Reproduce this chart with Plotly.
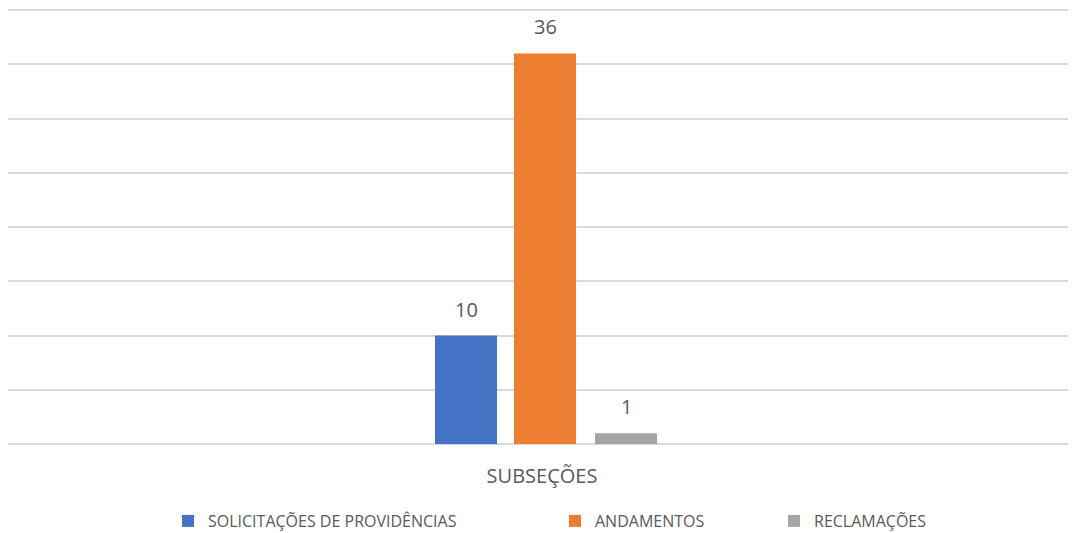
import plotly.graph_objects as go

categories = ["SUBSEÇÕES"]
series_names = ["SOLICITAÇÕES DE PROVIDÊNCIAS", "ANDAMENTOS", "RECLAMAÇÕES"]
series_values = [[10], [36], [1]]
colors = ["#4472C4", "#ED7D31", "#A5A5A5"]

# page has an 8px body margin: figure is drawn at page offset (8, 8)
OFF = 8
W, H = 1068, 525
ml, mr, mt, mb = 0, 0, 0, 89
pw = W - ml - mr
ph = H - mt - mb

# value axis: 0 at page y=444, 40 at page y=10
y_top_value = 40 * ph / (444 - 10)

def px_to_paper_x(page_px):
    return (page_px - OFF - ml) / pw

def py_to_paper_y(page_py):
    return (mt + ph - (page_py - OFF)) / ph

# bar geometry (page pixels -> data units on a [-0.5, 0.5] category axis)
bar_left_px = [435, 514, 595]
bar_w_px = 62
bar_offsets = [px_to_paper_x(p) - 0.5 for p in bar_left_px]
bar_width = bar_w_px / pw

legend_left_px = [168, 555, 774]
legend_ids = ["legend", "legend2", "legend3"]

fig = go.Figure()
annotations = []
for name, vals, col, lid, off in zip(series_names, series_values, colors, legend_ids, bar_offsets):
    xs = list(range(len(categories)))
    fig.add_trace(go.Bar(
        x=xs, y=vals, name=name, marker_color=col,
        marker_line_width=0, width=bar_width, offset=off,
        legend=lid, hoverinfo="y+name",
    ))
    for xi, v in zip(xs, vals):
        annotations.append(dict(
            x=xi + off + bar_width / 2, y=v, xref="x", yref="y",
            text=str(v), showarrow=False, yanchor="bottom", yshift=11,
            font=dict(size=20, color="#595959"),
        ))

layout_legends = {}
for lid, px in zip(legend_ids, legend_left_px):
    layout_legends[lid] = dict(
        x=px_to_paper_x(px), xanchor="left", xref="paper",
        y=py_to_paper_y(521), yanchor="middle", yref="paper",
        orientation="h", bgcolor="rgba(0,0,0,0)",
        font=dict(size=16, color="#595959"),
        itemwidth=30, tracegroupgap=0,
    )

fig.update_layout(
    width=W, height=H,
    margin=dict(l=ml, r=mr, t=mt, b=mb, autoexpand=False),
    paper_bgcolor="white", plot_bgcolor="white",
    font=dict(family="Open Sans, Noto Sans, sans-serif", color="#595959"),
    barmode="overlay",
    showlegend=True,
    annotations=annotations,
    xaxis=dict(type="linear", range=[-0.5, 0.5], tickvals=list(range(len(categories))),
               ticktext=categories, showgrid=False, showline=False, ticks="",
               zeroline=False, ticklabelstandoff=18,
               tickfont=dict(size=20, color="#595959")),
    yaxis=dict(range=[0, y_top_value], dtick=5, showticklabels=False,
               showgrid=True, gridcolor="#D9D9D9", gridwidth=1.5,
               zeroline=True, zerolinecolor="#D9D9D9", zerolinewidth=1.5),
    **layout_legends,
)

fig.write_html("out.html")
